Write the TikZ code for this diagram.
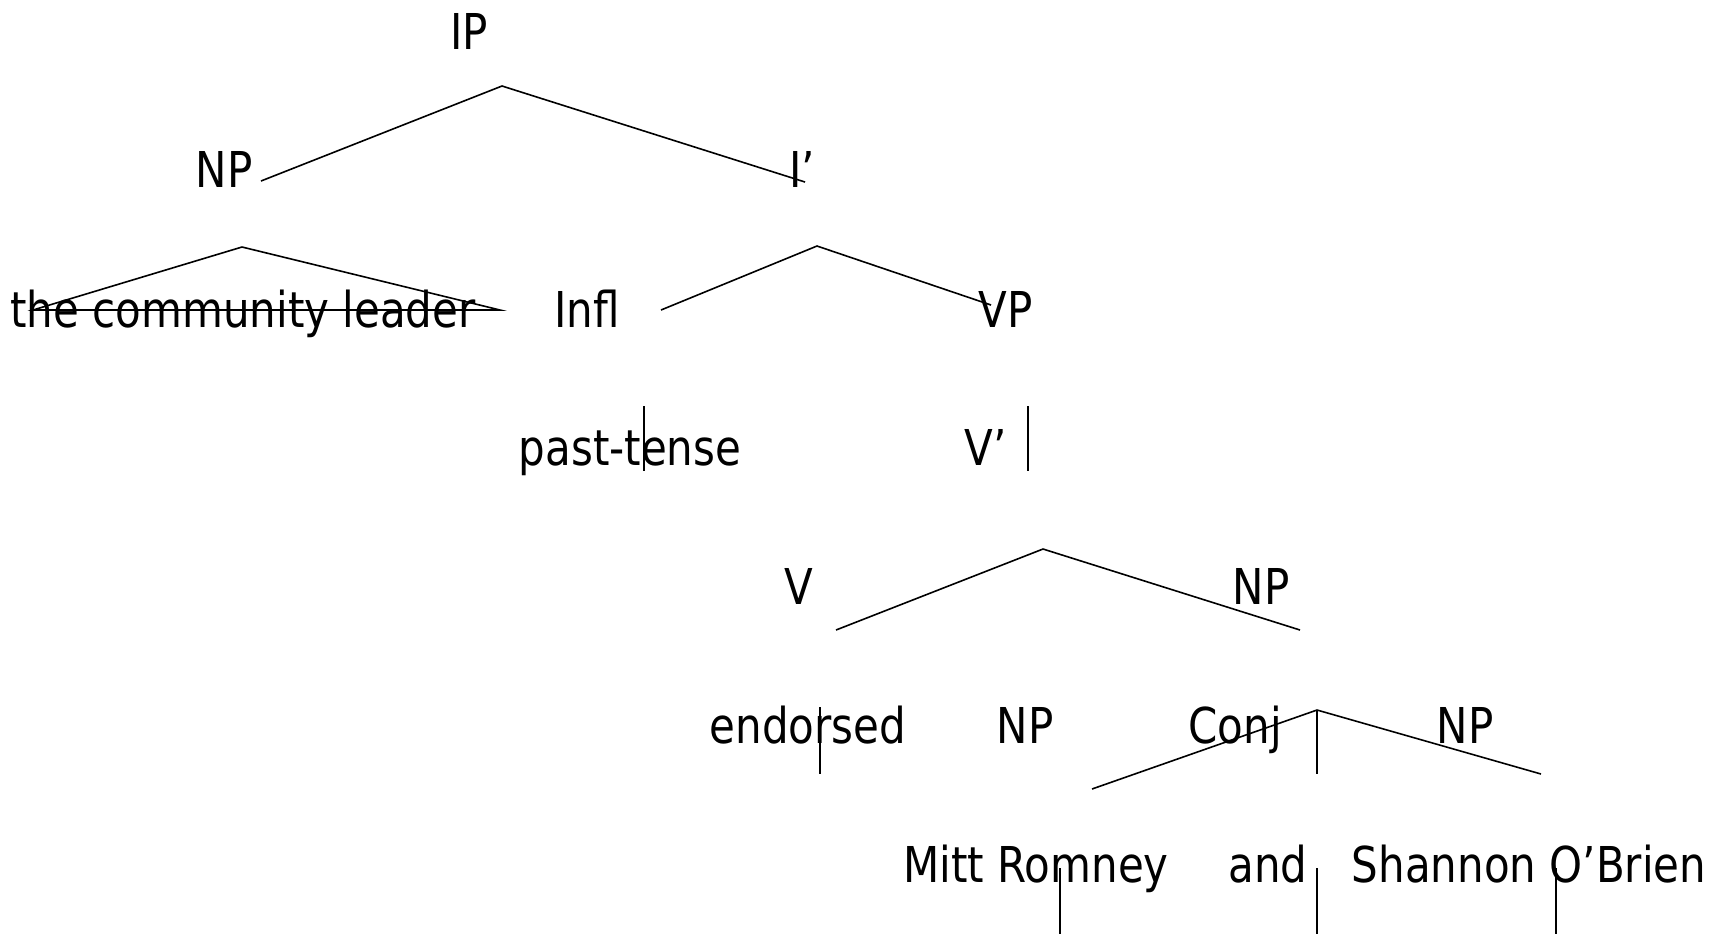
\documentclass[tikz,border=0pt]{standalone}
\usepackage{fontspec}
\setmainfont{DejaVu Sans}[FakeStretch=0.85]
\begin{document}
\begin{tikzpicture}[x=0.5pt,y=-0.5pt,
  lab/.style={anchor=base,inner sep=0pt,font=\fontsize{24.7}{30}\selectfont},
  br/.style={line width=0.8pt,line join=miter}]
\useasboundingbox (0,0) rectangle (1712,934);
% labels
\node[lab] (ip) at (469,49) {IP};
\node[lab] (np1) at (224,187) {NP};
\node[lab] (ibar) at (802,187) {I’};
\node[lab] (tcl) at (243,327) {the community leader};
\node[lab] (infl) at (587,327) {Infl};
\node[lab] (vp) at (1006,327) {VP};
\node[lab] (past) at (630,465) {past-tense};
\node[lab] (vbar) at (986,465) {V’};
\node[lab] (v) at (799,604) {V};
\node[lab] (np2) at (1261,604) {NP};
\node[lab] (end) at (808,743) {endorsed};
\node[lab] (np3) at (1025,743) {NP};
\node[lab] (conj) at (1235,743) {Conj};
\node[lab] (np4) at (1465,743) {NP};
\node[lab] (mitt) at (1036,882) {Mitt Romney};
\node[lab] (and) at (1268,882) {and};
\node[lab] (shan) at (1529,882) {Shannon O’Brien};
% branch coordinates
\coordinate (ipA) at (261,181); \coordinate (ipT) at (502,86); \coordinate (ipB) at (805,182);
\coordinate (npA) at (33,310); \coordinate (npT) at (242,247); \coordinate (npB) at (500,310);
\coordinate (ibA) at (661,310); \coordinate (ibT) at (817,246); \coordinate (ibB) at (991,305);
\coordinate (inT) at (644,406); \coordinate (inB) at (644,471);
\coordinate (vpT) at (1028,406); \coordinate (vpB) at (1028,471);
\coordinate (vbA) at (836,630); \coordinate (vbT) at (1043,549); \coordinate (vbB) at (1300,630);
\coordinate (vT) at (820,707); \coordinate (vB) at (820,774);
\coordinate (n2A) at (1092,789); \coordinate (n2T) at (1317,710); \coordinate (n2B) at (1541,774); \coordinate (n2C) at (1317,774);
\coordinate (n3T) at (1060,868); \coordinate (n3B) at (1060,934);
\coordinate (cjT) at (1317,868); \coordinate (cjB) at (1317,934);
\coordinate (n4T) at (1556,868); \coordinate (n4B) at (1556,934);
% branches
\draw[br] (ipA) -- (ipT) -- (ipB);
\draw[br] (npA) -- (npT) -- (npB) -- cycle;
\draw[br] (ibA) -- (ibT) -- (ibB);
\draw[br] (inT) -- (inB);
\draw[br] (vpT) -- (vpB);
\draw[br] (vbA) -- (vbT) -- (vbB);
\draw[br] (vT) -- (vB);
\draw[br] (n2A) -- (n2T) -- (n2B);
\draw[br] (n2T) -- (n2C);
\draw[br] (n3T) -- (n3B);
\draw[br] (cjT) -- (cjB);
\draw[br] (n4T) -- (n4B);
\end{tikzpicture}
\end{document}
